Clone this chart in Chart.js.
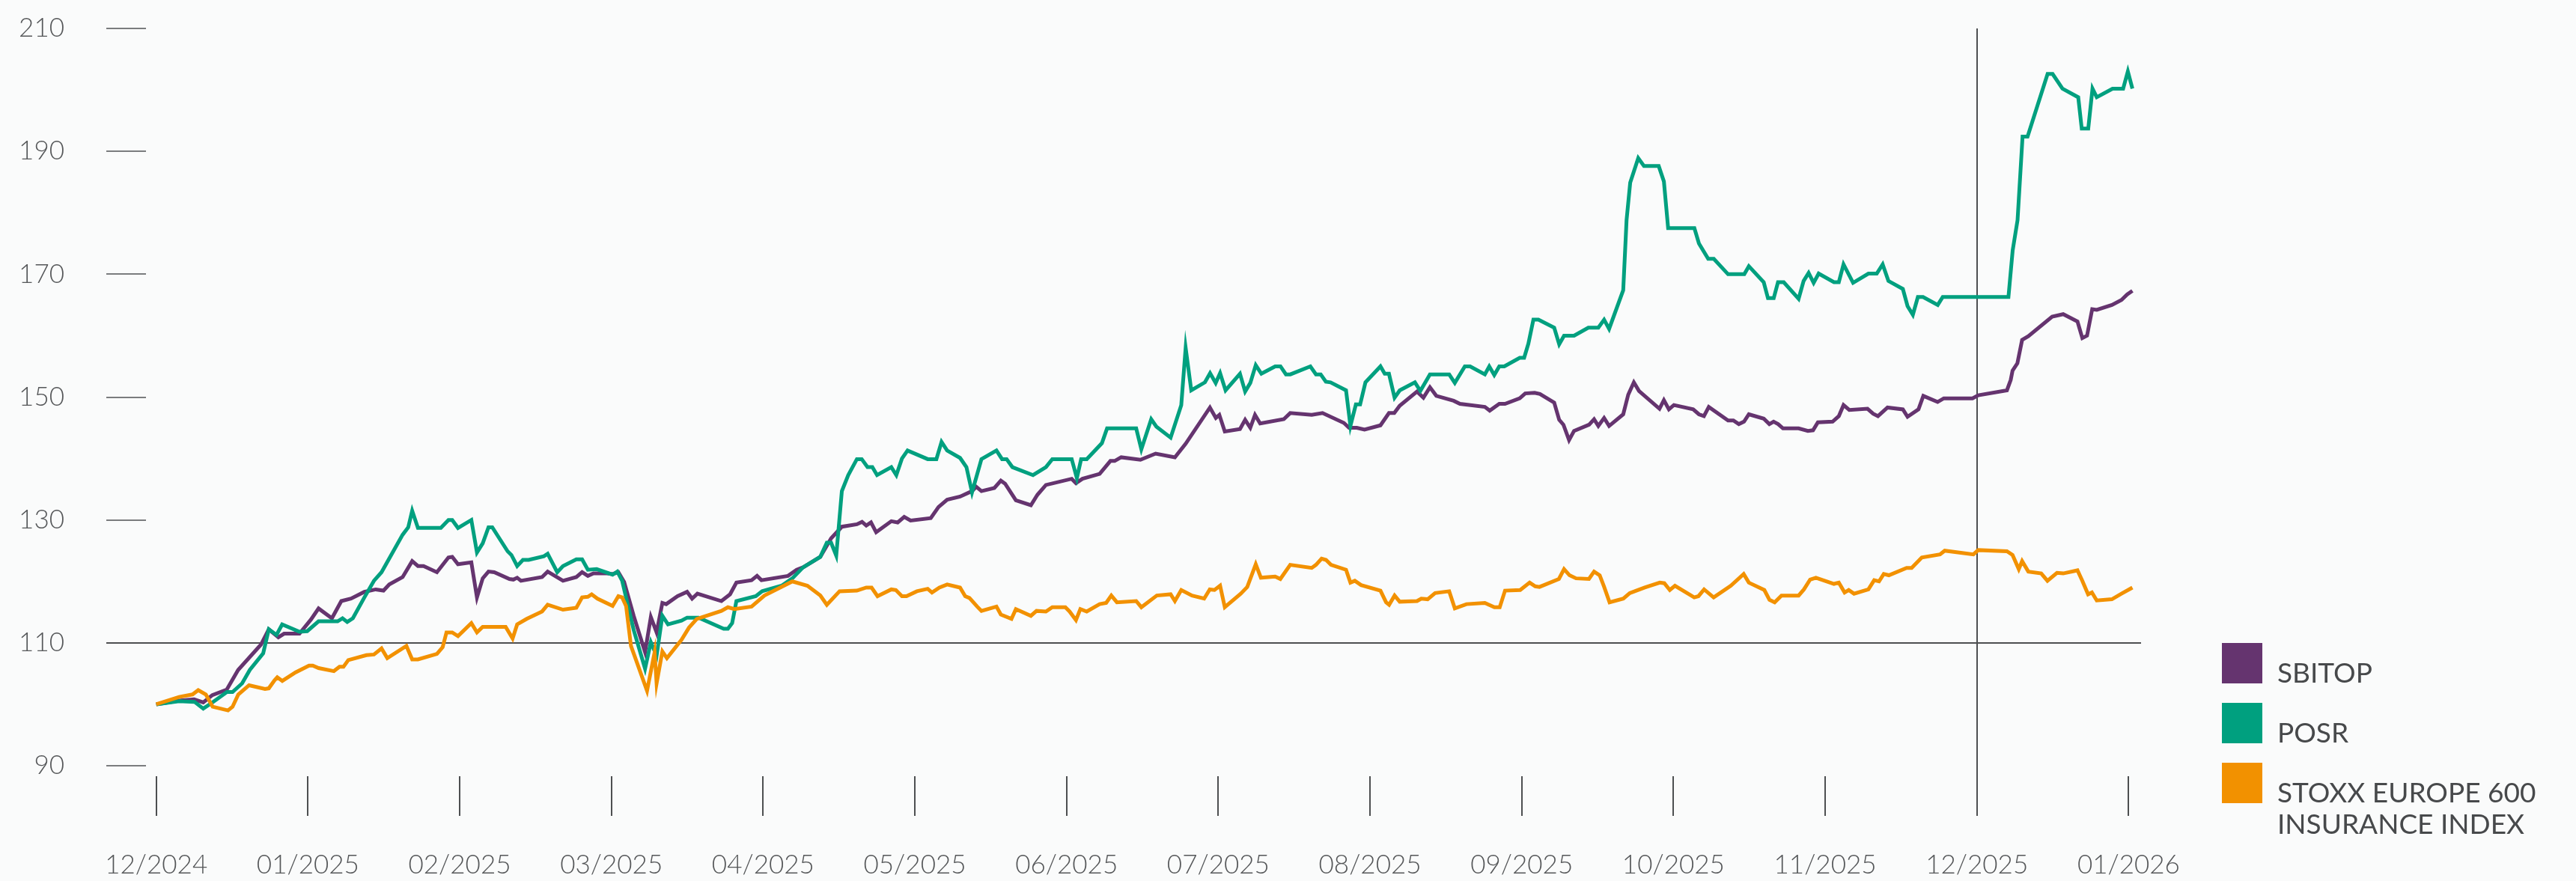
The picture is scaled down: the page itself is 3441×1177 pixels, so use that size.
<!DOCTYPE html>
<html>
<head>
<meta charset="utf-8">
<script src="https://cdn.jsdelivr.net/npm/chart.js@4/dist/chart.umd.min.js"></script>
<style>
  html, body { margin: 0; padding: 0; background: #fafbfb; }
  #wrap { width: 3441px; height: 1177px; }
</style>
</head>
<body>
<div id="wrap"><canvas id="c" width="3441" height="1177"></canvas></div>
<script>
// ---- Data (x = months since 12/2024, y = index, 12/2024 = 100) ----
const monthLabels = ['12/2024','01/2025','02/2025','03/2025','04/2025','05/2025','06/2025','07/2025','08/2025','09/2025','10/2025','11/2025','12/2025','01/2026'];
const yTicks = [90, 110, 130, 150, 170, 190, 210];
const refY = 110;       // horizontal reference line
const refX = 12;        // vertical reference line at 12/2025
const seriesNames = ['SBITOP', 'POSR', 'STOXX EUROPE 600 INSURANCE INDEX'];
const legendLines = [['SBITOP'], ['POSR'], ['STOXX EUROPE 600', 'INSURANCE INDEX']];
const seriesColors = ['#65346f', '#00a07f', '#f29100'];

const sbitopX = [0,0.15,0.25,0.31,0.37,0.465,0.54,0.69,0.742,0.805,0.843,0.944,1.02,1.07,1.158,1.22,1.284,1.372,1.447,1.498,1.536,1.624,1.687,1.725,1.762,1.85,1.926,1.951,1.989,2.077,2.114,2.152,2.19,2.228,2.328,2.354,2.379,2.404,2.543,2.58,2.681,2.769,2.807,2.845,2.882,2.97,3.008,3.046,3.084,3.147,3.222,3.26,3.298,3.336,3.361,3.436,3.499,3.532,3.567,3.725,3.782,3.824,3.924,3.96,3.989,4.164,4.221,4.264,4.377,4.448,4.519,4.618,4.652,4.68,4.711,4.745,4.845,4.887,4.93,4.972,5.105,5.156,5.213,5.298,5.377,5.405,5.439,5.524,5.567,5.595,5.666,5.765,5.808,5.864,6.034,6.062,6.105,6.218,6.289,6.317,6.36,6.487,6.587,6.714,6.785,6.945,6.984,7.007,7.043,7.143,7.177,7.211,7.242,7.276,7.432,7.474,7.616,7.687,7.828,7.862,7.913,7.964,8.069,8.125,8.16,8.196,8.31,8.352,8.395,8.437,8.551,8.593,8.757,8.789,8.852,8.89,8.987,9.023,9.085,9.12,9.214,9.247,9.275,9.312,9.345,9.444,9.477,9.505,9.543,9.576,9.669,9.702,9.739,9.773,9.908,9.937,9.97,10.003,10.13,10.168,10.201,10.233,10.36,10.395,10.431,10.465,10.497,10.595,10.632,10.66,10.69,10.722,10.825,10.886,10.92,10.952,11.049,11.09,11.121,11.159,11.279,11.316,11.348,11.411,11.512,11.543,11.615,11.647,11.741,11.782,11.971,12.009,12.198,12.223,12.235,12.267,12.298,12.339,12.496,12.569,12.663,12.695,12.726,12.76,12.79,12.89,12.953,12.99,13.025];
const sbitopY = [100,100.6,100.8,100.3,101.5,102.4,105.6,109.7,112.2,110.9,111.5,111.5,113.8,115.6,114.0,116.8,117.2,118.3,118.7,118.5,119.5,120.7,123.3,122.5,122.5,121.5,123.9,124.0,122.8,123.1,117.4,120.5,121.6,121.5,120.4,120.3,120.6,120.1,120.7,121.6,120.1,120.7,121.5,120.9,121.3,121.3,121.2,121.5,119.9,114.4,108.5,114.2,111.7,116.5,116.3,117.6,118.3,117.2,118.0,116.8,117.9,119.8,120.2,120.9,120.2,120.9,121.9,122.3,124.0,127.0,128.9,129.3,129.7,129.1,129.6,128.0,129.8,129.6,130.5,129.9,130.3,132.1,133.3,133.8,134.7,135.4,134.7,135.2,136.4,135.9,133.2,132.4,134.1,135.7,136.7,136.0,136.7,137.5,139.6,139.6,140.2,139.8,140.8,140.2,142.4,148.3,146.6,147.1,144.4,144.8,146.3,145.0,147.1,145.7,146.4,147.4,147.1,147.4,145.8,145.0,145.0,144.7,145.4,147.4,147.4,148.6,150.9,149.9,151.6,150.2,149.4,148.9,148.4,147.8,148.9,148.9,149.8,150.6,150.7,150.5,149.1,146.3,145.5,143.0,144.5,145.5,146.4,145.3,146.6,145.3,147.2,150.4,152.4,151.0,148.1,149.5,148.0,148.7,148.0,147.2,146.9,148.4,146.2,146.2,145.6,146.0,147.2,146.5,145.6,146.0,145.6,144.9,144.9,144.5,144.6,145.9,146.0,146.9,148.7,147.9,148.1,147.3,146.9,148.3,148.0,146.8,148.0,150.2,149.2,149.8,149.8,150.3,151.1,152.8,154.3,155.5,159.3,159.9,163.1,163.5,162.3,159.6,160.0,164.3,164.2,165.0,165.8,166.7,167.3];

const posrX = [0,0.151,0.252,0.31,0.365,0.466,0.503,0.566,0.617,0.705,0.742,0.793,0.83,0.944,0.995,1.07,1.196,1.228,1.259,1.296,1.372,1.435,1.485,1.624,1.661,1.687,1.725,1.876,1.926,1.951,1.989,2.077,2.114,2.152,2.19,2.215,2.316,2.341,2.379,2.417,2.455,2.555,2.58,2.643,2.681,2.769,2.807,2.845,2.903,3.008,3.039,3.071,3.147,3.222,3.26,3.298,3.336,3.373,3.462,3.499,3.575,3.74,3.768,3.796,3.824,3.952,3.994,4.122,4.193,4.264,4.377,4.42,4.448,4.482,4.519,4.561,4.618,4.65,4.688,4.72,4.751,4.845,4.878,4.915,4.952,5.085,5.142,5.176,5.213,5.298,5.34,5.377,5.439,5.538,5.575,5.605,5.643,5.779,5.864,5.906,6.034,6.068,6.096,6.133,6.233,6.267,6.459,6.493,6.558,6.592,6.686,6.756,6.785,6.822,6.912,6.946,6.983,7.012,7.048,7.143,7.177,7.211,7.247,7.284,7.375,7.41,7.446,7.475,7.607,7.644,7.675,7.709,7.74,7.842,7.871,7.907,7.935,7.97,8.069,8.097,8.125,8.162,8.196,8.296,8.332,8.395,8.522,8.559,8.625,8.66,8.757,8.786,8.819,8.852,8.885,8.987,9.016,9.044,9.077,9.11,9.214,9.247,9.279,9.345,9.439,9.505,9.543,9.576,9.669,9.691,9.715,9.768,9.806,9.903,9.937,9.965,10.138,10.168,10.229,10.266,10.36,10.467,10.497,10.595,10.623,10.661,10.689,10.727,10.825,10.858,10.891,10.924,10.957,11.058,11.09,11.121,11.184,11.285,11.34,11.379,11.417,11.512,11.543,11.578,11.611,11.645,11.742,11.775,12.208,12.236,12.268,12.301,12.334,12.466,12.499,12.564,12.668,12.691,12.734,12.762,12.79,12.894,12.964,12.995,13.025];
const posrY = [100,100.5,100.4,99.3,100.2,102,102,103.4,105.6,108.3,112.2,111.3,113,111.8,111.9,113.5,113.5,114,113.4,114,117.4,120.1,121.5,127.6,128.8,131.5,128.7,128.7,130.0,130.0,128.7,130.0,124.7,126.2,128.8,128.8,124.9,124.3,122.5,123.5,123.5,124.1,124.5,121.5,122.5,123.6,123.6,121.9,122.0,121.1,121.6,120.1,112.1,105.8,110.1,107.9,114.4,113.0,113.6,114.1,114.1,112.3,112.3,113.2,116.8,117.6,118.4,119.3,120.5,122.3,124.0,126.3,126.3,124.2,134.7,137.3,139.9,139.9,138.6,138.6,137.3,138.6,137.3,140.0,141.3,139.9,139.9,142.7,141.3,140.1,138.6,134.5,139.9,141.3,139.9,139.9,138.6,137.3,138.6,139.9,139.9,136.8,139.9,139.9,142.5,144.9,144.9,141.5,146.4,145.2,143.4,148.7,158.0,151.1,152.4,153.9,152.3,153.9,151.1,153.8,150.9,152.3,155.2,153.8,155.0,155.0,153.7,153.7,155.0,153.7,153.7,152.5,152.4,151.1,145.3,148.8,148.8,152.4,155.0,153.8,153.8,149.9,151.1,152.4,151.0,153.7,153.7,152.3,155.0,155.0,153.7,155.0,153.6,155.0,155.0,156.4,156.4,158.7,162.6,162.6,161.3,158.6,160.0,160.0,161.3,161.3,162.6,161.1,167.4,178.8,184.9,188.9,187.6,187.6,185.1,177.5,177.5,175.0,172.5,172.5,170.0,170.0,171.3,168.7,166.1,166.1,168.7,168.7,166.0,168.9,170.2,168.6,170.1,168.7,168.7,171.6,168.6,170.1,170.1,171.6,168.9,167.6,164.8,163.4,166.3,166.3,165.0,166.3,166.3,173.9,178.8,192.4,192.4,202.6,202.6,200.2,198.8,193.7,193.7,200.2,198.8,200.2,200.2,203.0,200.2];

const stoxxX = [0,0.151,0.239,0.277,0.327,0.372,0.473,0.503,0.541,0.612,0.717,0.742,0.78,0.798,0.831,0.919,1.007,1.032,1.07,1.171,1.208,1.234,1.266,1.385,1.435,1.485,1.523,1.649,1.687,1.725,1.85,1.888,1.913,1.951,1.989,2.077,2.114,2.152,2.303,2.349,2.379,2.442,2.543,2.58,2.681,2.769,2.807,2.845,2.87,2.908,3.008,3.046,3.071,3.097,3.129,3.235,3.285,3.298,3.336,3.366,3.462,3.512,3.563,3.725,3.768,3.81,3.924,4.009,4.193,4.292,4.377,4.42,4.504,4.618,4.68,4.715,4.754,4.845,4.875,4.915,4.945,5.014,5.085,5.113,5.162,5.213,5.298,5.332,5.36,5.411,5.439,5.538,5.567,5.637,5.666,5.765,5.802,5.864,5.906,5.992,6.02,6.062,6.091,6.133,6.218,6.261,6.295,6.332,6.459,6.493,6.595,6.686,6.714,6.756,6.827,6.907,6.944,6.975,7.012,7.043,7.148,7.191,7.247,7.281,7.375,7.409,7.474,7.616,7.644,7.681,7.71,7.743,7.842,7.871,7.9,7.941,8.069,8.106,8.126,8.162,8.196,8.31,8.338,8.38,8.429,8.522,8.559,8.636,8.757,8.82,8.855,8.89,8.99,9.052,9.089,9.117,9.245,9.279,9.315,9.358,9.443,9.477,9.514,9.542,9.579,9.67,9.712,9.755,9.811,9.91,9.94,9.976,10.01,10.137,10.165,10.202,10.265,10.378,10.463,10.497,10.599,10.633,10.667,10.712,10.825,10.86,10.901,10.939,11.058,11.09,11.128,11.155,11.19,11.285,11.323,11.355,11.386,11.42,11.537,11.57,11.637,11.757,11.788,11.977,12.009,12.198,12.235,12.276,12.298,12.339,12.424,12.465,12.528,12.569,12.663,12.695,12.733,12.758,12.79,12.89,12.953,13.025];
const stoxxY = [100,101.2,101.6,102.3,101.6,99.6,99.0,99.6,101.6,103.1,102.5,102.6,103.9,104.4,103.8,105.2,106.3,106.3,105.9,105.4,106.1,106.1,107.2,108.0,108.1,109.1,107.5,109.5,107.3,107.3,108.2,109.3,111.7,111.7,111.1,113.2,111.7,112.6,112.6,110.7,113.0,113.9,115.1,116.2,115.4,115.7,117.4,117.5,117.9,117.2,116.0,117.6,117.4,116.0,109.5,102.2,108.5,103.4,108.6,107.5,110.5,112.5,113.9,115.2,115.8,115.5,115.9,117.7,120.0,119.3,117.7,116.2,118.4,118.5,119.0,119.0,117.6,118.7,118.6,117.6,117.6,118.4,118.8,118.2,119.0,119.5,119.0,117.6,117.3,115.9,115.2,115.9,114.6,113.9,115.5,114.4,115.2,115.1,115.8,115.8,115.1,113.7,115.5,115.1,116.3,116.5,117.7,116.6,116.8,115.8,117.7,117.9,116.8,118.6,117.7,117.2,118.7,118.6,119.3,115.8,118.0,119.1,122.8,120.6,120.8,120.4,122.7,122.2,122.7,123.7,123.5,122.7,121.9,119.8,120.1,119.4,118.5,116.6,116.2,117.7,116.7,116.8,117.2,117.1,118.1,118.4,115.6,116.3,116.5,115.8,115.8,118.5,118.6,119.8,119.2,119.1,120.4,122.0,121.0,120.5,120.4,121.6,121.0,119.2,116.6,117.2,118.1,118.5,119.0,119.8,119.7,118.6,119.3,117.4,117.6,118.7,117.4,119.3,121.2,119.8,118.6,117.0,116.6,117.7,117.7,118.7,120.3,120.6,119.6,119.8,118.2,118.6,118.0,118.7,120.2,120.0,121.2,121.0,122.2,122.2,123.9,124.4,125.0,124.4,125.1,124.9,124.3,122.0,123.3,121.6,121.3,120.1,121.4,121.3,121.8,120.1,117.9,118.2,116.9,117.1,118.0,119.0];

// ---- build datasets ----
function pts(xs, ys) { return xs.map((x, i) => ({ x: x, y: ys[i] })); }
const allX = [sbitopX, posrX, stoxxX];
const allY = [sbitopY, posrY, stoxxY];
const drawOrder = [2, 1, 0]; // orange on top, then teal, then purple

const datasets = seriesNames.map((name, i) => ({
  label: name,
  data: pts(allX[i], allY[i]),
  borderColor: seriesColors[i],
  backgroundColor: seriesColors[i],
  borderWidth: 5,
  pointRadius: 0,
  tension: 0,
  fill: false,
  order: drawOrder[i],
  clip: false
}));

const tickColor = '#555759';
const labelFont = { family: 'Lato', size: 35, weight: '300' };

const marksPlugin = {
  id: 'marks',
  beforeDatasetsDraw(chart) {
    const { ctx, chartArea, scales } = chart;
    const xs = scales.x, ys = scales.y;
    ctx.save();
    ctx.lineCap = 'butt';
    yTicks.forEach(v => {
      const py = Math.round(ys.getPixelForValue(v));
      ctx.beginPath();
      ctx.lineWidth = 2;
      if (v === refY) {
        ctx.strokeStyle = '#4d4f51';
        ctx.moveTo(chartArea.left, py);
        ctx.lineTo(chartArea.right, py);
      } else {
        ctx.strokeStyle = '#7a7c7e';
        ctx.moveTo(chartArea.left, py);
        ctx.lineTo(chartArea.left + 53, py);
      }
      ctx.stroke();
    });
    monthLabels.forEach((lab, i) => {
      const px = Math.round(xs.getPixelForValue(i));
      ctx.beginPath();
      ctx.strokeStyle = '#4d4f51';
      ctx.lineWidth = 2;
      const top = (i === refX) ? ys.getPixelForValue(yTicks[yTicks.length - 1]) : chartArea.bottom + 14;
      ctx.moveTo(px, top);
      ctx.lineTo(px, chartArea.bottom + 67);
      ctx.stroke();
    });
    ctx.restore();
  },
  afterDraw(chart) {
    const { ctx, chartArea } = chart;
    ctx.save();
    const sq = 54, gap = 80;
    const baseTop = chartArea.bottom - 164;
    ctx.font = '400 37px Lato';
    ctx.textBaseline = 'alphabetic';
    ctx.textAlign = 'left';
    legendLines.forEach((lines, i) => {
      const top = baseTop + i * gap;
      ctx.fillStyle = seriesColors[i];
      ctx.fillRect(chartArea.right + 108, top, sq, sq);
      ctx.fillStyle = '#47494b';
      lines.forEach((t, k) => {
        ctx.fillText(t, chartArea.right + 182, top + 53 + k * 42);
      });
    });
    ctx.restore();
  }
};

new Chart(document.getElementById('c'), {
  type: 'line',
  data: { datasets: datasets },
  options: {
    responsive: false,
    animation: false,
    devicePixelRatio: 1,
    layout: { padding: { top: 38, right: 581, bottom: 0, left: 0 } },
    plugins: { legend: { display: false }, tooltip: { enabled: false } },
    scales: {
      x: {
        type: 'linear',
        min: -0.329,
        max: 13.082,
        grid: { display: false, drawTicks: false },
        border: { display: false },
        afterBuildTicks: (s) => { s.ticks = monthLabels.map((l, i) => ({ value: i })); },
        afterFit: (s) => { s.height = 154; s.paddingLeft = 0; s.paddingRight = 0; },
        ticks: {
          autoSkip: false,
          maxRotation: 0,
          padding: 112,
          color: tickColor,
          font: labelFont,
          callback: (v, i) => monthLabels[i]
        }
      },
      y: {
        min: 90,
        max: 210,
        grid: { display: false, drawTicks: false },
        border: { display: false },
        afterBuildTicks: (s) => { s.ticks = yTicks.map(v => ({ value: v })); },
        afterFit: (s) => { s.width = 142; s.paddingTop = 0; s.paddingBottom = 0; },
        ticks: {
          padding: 56,
          color: tickColor,
          font: labelFont,
          callback: (v) => String(v)
        }
      }
    }
  },
  plugins: [marksPlugin]
});
</script>
</body>
</html>
